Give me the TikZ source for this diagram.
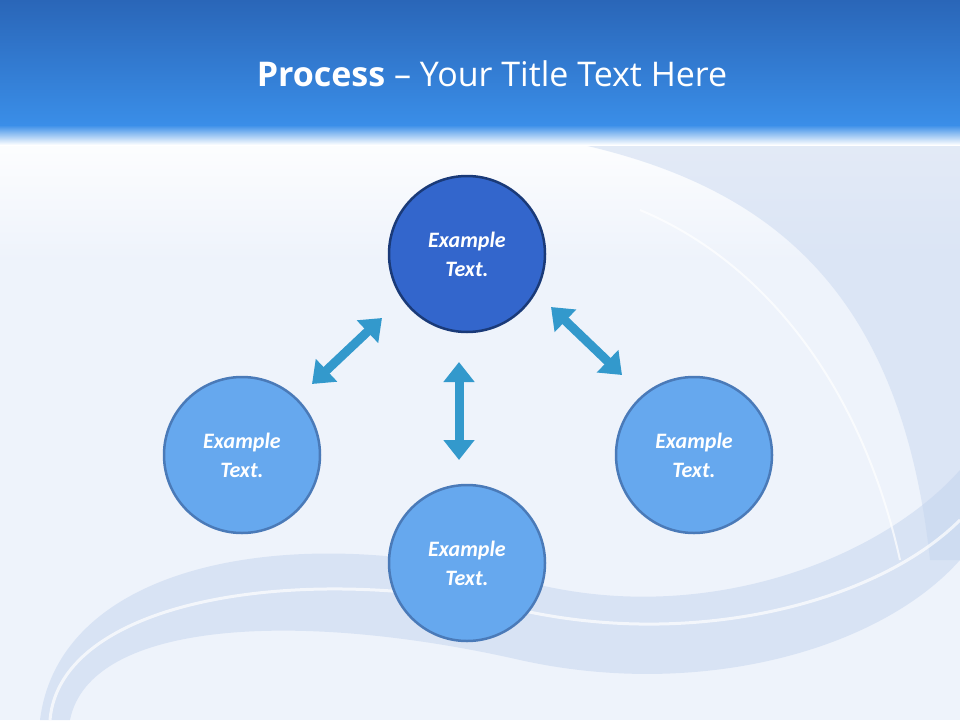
\documentclass[tikz,border=0pt]{standalone}
\usepackage{fontspec}
\setmainfont{Open Sans}
\newfontfamily\calib{Carlito}
\usetikzlibrary{arrows.meta}
\definecolor{hdtop}{HTML}{2A66B8}
\definecolor{hdbot}{HTML}{3A8EE8}
\definecolor{bgl}{HTML}{EEF3FB}
\definecolor{dkc}{HTML}{3366CC}
\definecolor{dkb}{HTML}{1A3A78}
\definecolor{ltc}{HTML}{66A8EE}
\definecolor{ltb}{HTML}{4A7AB8}
\definecolor{arr}{HTML}{3399CC}
\definecolor{swirl}{HTML}{C4D4EE}
\tikzset{
 circ/.style={circle,minimum size=156pt,line width=2.5pt,text=white,align=center,font=\calib\fontsize{22pt}{29pt}\selectfont\bfseries\itshape},
 topc/.style={circ,fill=dkc,draw=dkb},
 subc/.style={circ,fill=ltc,draw=ltb},
 dbl/.style={draw=arr,line width=9pt,{Triangle[width=30pt,length=20pt]}-{Triangle[width=30pt,length=20pt]}}
}
\begin{document}
\begin{tikzpicture}[x=1pt,y=-1pt]
\useasboundingbox (0,0) rectangle (960,720);
\fill[bgl] (0,0) rectangle (960,720);
\shade[top color=white,bottom color=bgl] (0,125) rectangle (960,260);
% swirls
\fill[swirl,opacity=0.5] (40,720) .. controls (60,560) and (300,520) .. (520,580) .. controls (700,630) and (880,560) .. (960,470) -- (960,560) .. controls (880,650) and (700,700) .. (520,660) .. controls (300,610) and (90,620) .. (70,720) -- cycle;
\fill[swirl,opacity=0.45] (560,140) .. controls (760,180) and (900,280) .. (930,560) -- (960,560) -- (960,140) -- cycle;
\draw[white,line width=3pt,opacity=0.7] (50,720) .. controls (60,600) and (300,560) .. (520,610) .. controls (700,650) and (880,600) .. (960,520);
\draw[white,line width=2pt,opacity=0.7] (640,210) .. controls (760,260) and (860,380) .. (900,560);
% header
\shade[top color=hdtop,bottom color=hdbot] (0,0) rectangle (960,125);
\shade[top color=hdbot,bottom color=white] (0,125) rectangle (960,145);
\node[text=white,font=\fontsize{34pt}{40pt}\selectfont] (title) at (492,74) {\textbf{Process} -- Your Title Text Here};
% circles
\node[topc] (c0) at (467,254) {Example\\Text.};
\node[subc] (c1) at (242,455) {Example\\Text.};
\node[subc] (c2) at (467,563) {Example\\Text.};
\node[subc] (c3) at (694,455) {Example\\Text.};
\coordinate (a1s) at (312,384); \coordinate (a1e) at (382,318);
\coordinate (a2s) at (459,362); \coordinate (a2e) at (459,460);
\coordinate (a3s) at (551,307); \coordinate (a3e) at (622,375);
\draw[dbl] (a1s) -- (a1e);
\draw[dbl] (a2s) -- (a2e);
\draw[dbl] (a3s) -- (a3e);
\end{tikzpicture}
\end{document}
